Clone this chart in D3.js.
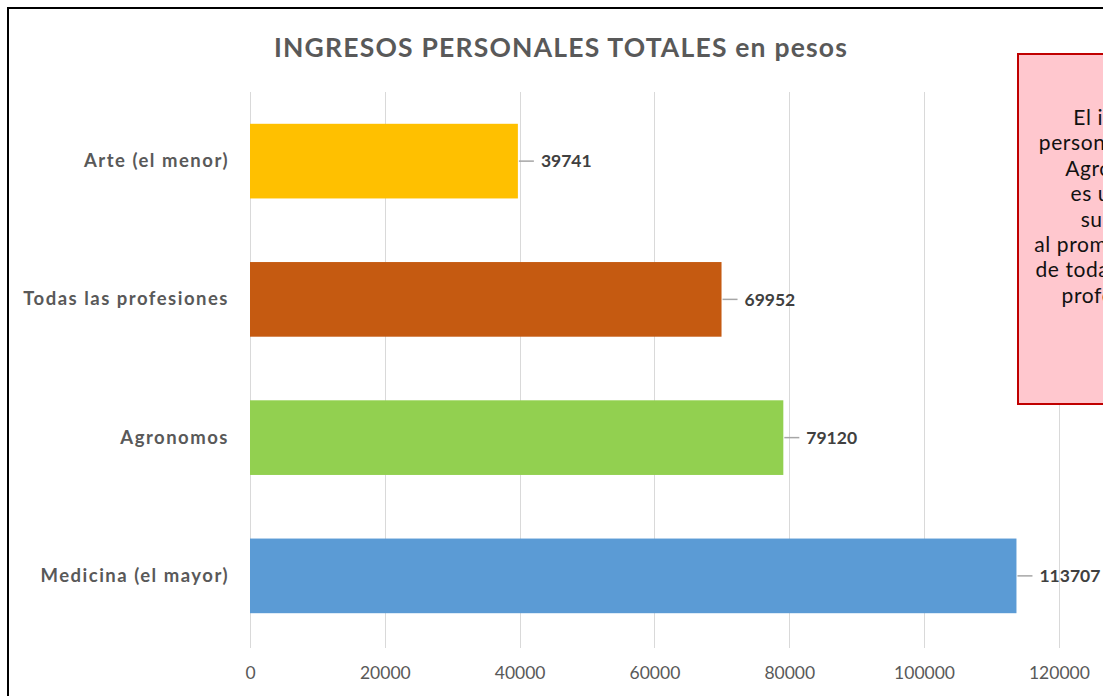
<!DOCTYPE html>
<html><head><meta charset="utf-8">
<script src="https://cdn.jsdelivr.net/npm/d3@7"></script>
<style>body{margin:0;background:#fff;} svg{display:block;}</style>
</head><body>
<svg id="c" width="1103" height="696"></svg>
<script>
const categories = ["Arte (el menor)", "Todas las profesiones", "Agronomos", "Medicina (el mayor)"];
const values = [39741, 69952, 79120, 113707];
const colors = ["#FFC000", "#C55A11", "#92D050", "#5B9BD5"];
const tickValues = [0, 20000, 40000, 60000, 80000, 100000, 120000, 140000];
const title = "INGRESOS PERSONALES TOTALES en pesos";
const noteLines = ["El ingreso", "personal total de", "Agrónomos", "es un 13%", "superior", "al promedio anual", "de todas las otras", "profesiones."];

const svg = d3.select("#c");
const FONT = "Lato, 'Open Sans', sans-serif";

// outer chart border
svg.append("rect").attr("x", 8).attr("y", 8).attr("width", 1200).attr("height", 800)
  .attr("fill", "#fff").attr("stroke", "#000").attr("stroke-width", 2);

const x = d3.scaleLinear().domain([0, 140000]).range([250, 1193.7]);
const y = d3.scaleBand().domain(categories).range([92, 645]).paddingInner(0.46).paddingOuter(0.23);

// gridlines
svg.append("g").selectAll("line").data(tickValues).join("line")
  .attr("x1", d => Math.round(x(d)) + 0.5).attr("x2", d => Math.round(x(d)) + 0.5)
  .attr("y1", 92).attr("y2", 648)
  .attr("stroke", "#d9d9d9").attr("stroke-width", 1);

// x axis labels
const xAxis = d3.axisBottom(x).tickValues(tickValues).tickSize(0).tickFormat(d3.format("d"));
const gx = svg.append("g").attr("transform", "translate(0,664)").call(xAxis);
gx.select(".domain").remove();
gx.selectAll("text").attr("font-family", FONT).attr("font-size", 17.5).attr("fill", "#595959").attr("dy", "0.71em");

// y axis labels
const yAxis = d3.axisLeft(y).tickSize(0).tickPadding(0);
const gy = svg.append("g").attr("transform", "translate(229,0)").call(yAxis);
gy.select(".domain").remove();
gy.selectAll("text").attr("font-family", FONT).attr("font-size", 18.5).attr("font-weight", "bold")
  .attr("fill", "#595959").attr("letter-spacing", "1.5px");

// bars
svg.append("g").selectAll("rect").data(categories).join("rect")
  .attr("x", x(0)).attr("y", d => y(d))
  .attr("width", (d, i) => x(values[i]) - x(0)).attr("height", y.bandwidth())
  .attr("fill", (d, i) => colors[i]);

// leader lines + value labels
const lbl = svg.append("g");
categories.forEach((c, i) => {
  const xe = x(values[i]);
  const yc = y(c) + y.bandwidth() / 2;
  lbl.append("line").attr("x1", xe + 1).attr("x2", xe + 16).attr("y1", yc).attr("y2", yc)
    .attr("stroke", "#a6a6a6").attr("stroke-width", 1.5);
  lbl.append("text").attr("x", xe + 23).attr("y", yc).attr("dy", "0.36em")
    .attr("font-family", FONT).attr("font-size", 17.5).attr("font-weight", "bold").attr("fill", "#404040")
    .text(values[i]);
});

// title
svg.append("text").attr("x", 561).attr("y", 57).attr("text-anchor", "middle")
  .attr("font-family", FONT).attr("font-size", 26.5).attr("font-weight", "bold").attr("fill", "#595959")
  .attr("letter-spacing", "1.2px")
  .text(title);

// annotation box
svg.append("rect").attr("x", 1018).attr("y", 54).attr("width", 206).attr("height", 350)
  .attr("fill", "#FFC7CE").attr("stroke", "#C00000").attr("stroke-width", 2);
svg.append("g").selectAll("text").data(noteLines).join("text")
  .attr("x", 1121).attr("y", (d, i) => 125 + i * 25.4).attr("text-anchor", "middle")
  .attr("font-family", FONT).attr("font-size", 21).attr("fill", "#111").attr("letter-spacing", "0.6px")
  .text(d => d);
</script>
</body></html>
